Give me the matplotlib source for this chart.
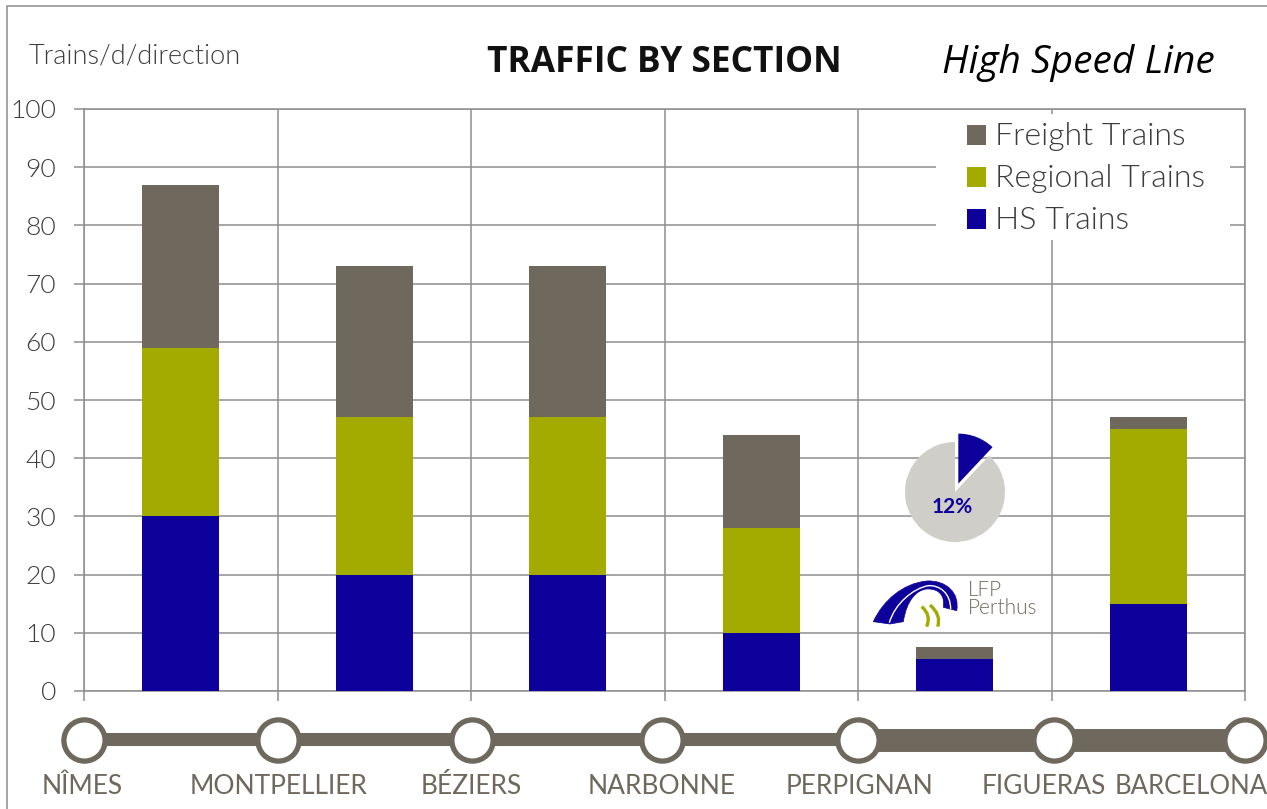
import matplotlib
matplotlib.use('Agg')
import matplotlib.pyplot as plt
from matplotlib.patches import PathPatch, Rectangle
from matplotlib.path import Path

# Data
sections = ['Nîmes-Montpellier', 'Montpellier-Béziers', 'Béziers-Narbonne',
            'Narbonne-Perpignan', 'Perpignan-Figueras', 'Figueras-Barcelona']
hs_trains = [30, 20, 20, 10, 5.5, 15]
regional_trains = [29, 27, 27, 18, 0, 30]
freight_trains = [28, 26, 26, 16, 2, 2]
y_ticks = list(range(0, 101, 10))
stations = ['NÎMES', 'MONTPELLIER', 'BÉZIERS', 'NARBONNE', 'PERPIGNAN', 'FIGUERAS', 'BARCELONA']
share_values = [12, 88]

BLUE = '#0e009a'
OLIVE = '#a3aa00'
BROWN = '#6f685c'
GRID = '#8e8e8e'
TEXT = '#3c3c3c'
W, H = 1267, 809

plt.rcParams['font.family'] = ['Lato', 'DejaVu Sans']

fig = plt.figure(figsize=(W / 100, H / 100), dpi=100)
ax = fig.add_axes([84 / W, 1 - 691 / H, (1245 - 84) / W, (691 - 109) / H])

# stacked bars
xs = [i + 0.5 for i in range(len(sections))]
bottom2 = [a + b for a, b in zip(hs_trains, regional_trains)]
ax.bar(xs, hs_trains, width=0.4, color=BLUE, zorder=3)
ax.bar(xs, regional_trains, width=0.4, bottom=hs_trains, color=OLIVE, zorder=3)
ax.bar(xs, freight_trains, width=0.4, bottom=bottom2, color=BROWN, zorder=3)

ax.set_xlim(0, 6)
ax.set_ylim(0, 100)
ax.set_xticks(range(7))
ax.set_xticklabels([])
ax.set_yticks(y_ticks)
ax.grid(True, color=GRID, linewidth=1.1, zorder=1)
ax.set_axisbelow(True)
ax.tick_params(axis='both', length=7, width=1.1, color=GRID)
ax.tick_params(axis='y', labelsize=19, labelcolor=TEXT, pad=13)
for lab in ax.get_yticklabels():
    lab.set_fontweight(300)
for s in ax.spines.values():
    s.set_color(GRID)
    s.set_linewidth(1.1)

# everything around the plot is placed in pixels on an overlay
ov = fig.add_axes([0, 0, 1, 1], facecolor='none')
ov.set_zorder(5)
ov.set_xlim(0, W)
ov.set_ylim(H, 0)
ov.axis('off')

# outer frame
ov.plot([7, 7, W], [H, 6, 6], color='#8c8c8c', lw=1.1)

ov.text(29, 56, 'Trains/d/direction', fontsize=19.5, fontweight=300, color=TEXT, va='center')
ov.text(664, 63, 'TRAFFIC BY SECTION', fontsize=25.4, fontweight='bold', color='#111111',
        ha='center', va='center', family=['Open Sans', 'DejaVu Sans'])
ov.text(1078, 63, 'High Speed Line', fontsize=28, style='italic', color='black',
        ha='center', va='center', family=['Open Sans', 'DejaVu Sans'])

# legend box hides the grid behind it
ov.add_patch(Rectangle((936, 114), 294, 126, color='white', lw=0, zorder=2))
legend_rows = [('Freight Trains', BROWN, 135), ('Regional Trains', OLIVE, 177), ('HS Trains', BLUE, 219)]
for label, col, y in legend_rows:
    ov.add_patch(Rectangle((967, y - 10), 19, 20, color=col, lw=0, zorder=3))
    ov.text(995, y + 1, label, fontsize=23, fontweight=300, color=TEXT, va='center', zorder=3)

# track along the bottom
ov.plot([84, 858], [739, 739], color=BROWN, lw=9.4, solid_capstyle='butt', zorder=2)
ov.plot([858, 1245], [739.5, 739.5], color=BROWN, lw=16.5, solid_capstyle='butt', zorder=2)
station_x = [84, 278, 472, 662, 858, 1054, 1245]
ov.scatter(station_x, [739.5] * 7, s=880, facecolor='white', edgecolor=BROWN, linewidth=3.8, zorder=3,
           clip_on=False)
label_x = [82, 279, 471, 662, 859, 1044, 1191]
label_size = [19, 19, 19, 19, 19, 19, 18.5]
for name, x, size in zip(stations, label_x, label_size):
    ov.text(x, 787, name, fontsize=size, color=BROWN, ha='center', va='center')

# 12% pie
pie_ax = fig.add_axes([(955 - 60) / W, 1 - (492 + 60) / H, 120 / W, 120 / H])
pie_ax.pie(share_values, colors=[BLUE, '#d0cec9'], startangle=90, counterclock=False,
           explode=[0.15, 0], radius=50 / 60,
           wedgeprops={'linewidth': 0}, normalize=True)
pie_ax.set_xlim(-1, 1)
pie_ax.set_ylim(-1, 1)
ov.text(952, 507, '12%', fontsize=15, fontweight='bold', color=BLUE, ha='center', va='center', zorder=5)


# LFP Perthus logo, points measured on a 3x crop of the logo
def logo_xy(pts):
    return [(840 + px / 3, 420 + py / 3) for px, py in pts]


arch = Path(logo_xy([(100, 605), (130, 540), (190, 490), (260, 483), (320, 480), (360, 520), (350, 572),
                     (310, 562), (315, 530), (300, 505), (260, 507), (230, 510), (200, 540), (190, 605),
                     (150, 612), (100, 605)]),
            [Path.MOVETO] + [Path.CURVE4] * 6 + [Path.LINETO] + [Path.CURVE4] * 6 + [Path.LINETO] * 2)
ov.add_patch(PathPatch(arch, facecolor=BLUE, edgecolor=BLUE, lw=0.5, zorder=3))
slit = Path(logo_xy([(148, 608), (165, 550), (220, 505), (265, 497), (300, 495), (332, 520), (332, 568)]),
            [Path.MOVETO] + [Path.CURVE4] * 6)
ov.add_patch(PathPatch(slit, facecolor='none', edgecolor='white', lw=1.0, zorder=4))
for start, mid, end in [((245, 560), (275, 585), (260, 620)), ((270, 555), (305, 585), (293, 620))]:
    curve = Path(logo_xy([start, mid, end]), [Path.MOVETO, Path.CURVE3, Path.CURVE3])
    ov.add_patch(PathPatch(curve, facecolor='none', edgecolor=OLIVE, lw=2.4, zorder=4))
ov.text(968, 590, 'LFP', fontsize=15, fontweight=300, color=BROWN, va='center', zorder=4)
ov.text(968, 608, 'Perthus', fontsize=15, fontweight=300, color=BROWN, va='center', zorder=4)

fig.savefig('out.png', dpi=100)
